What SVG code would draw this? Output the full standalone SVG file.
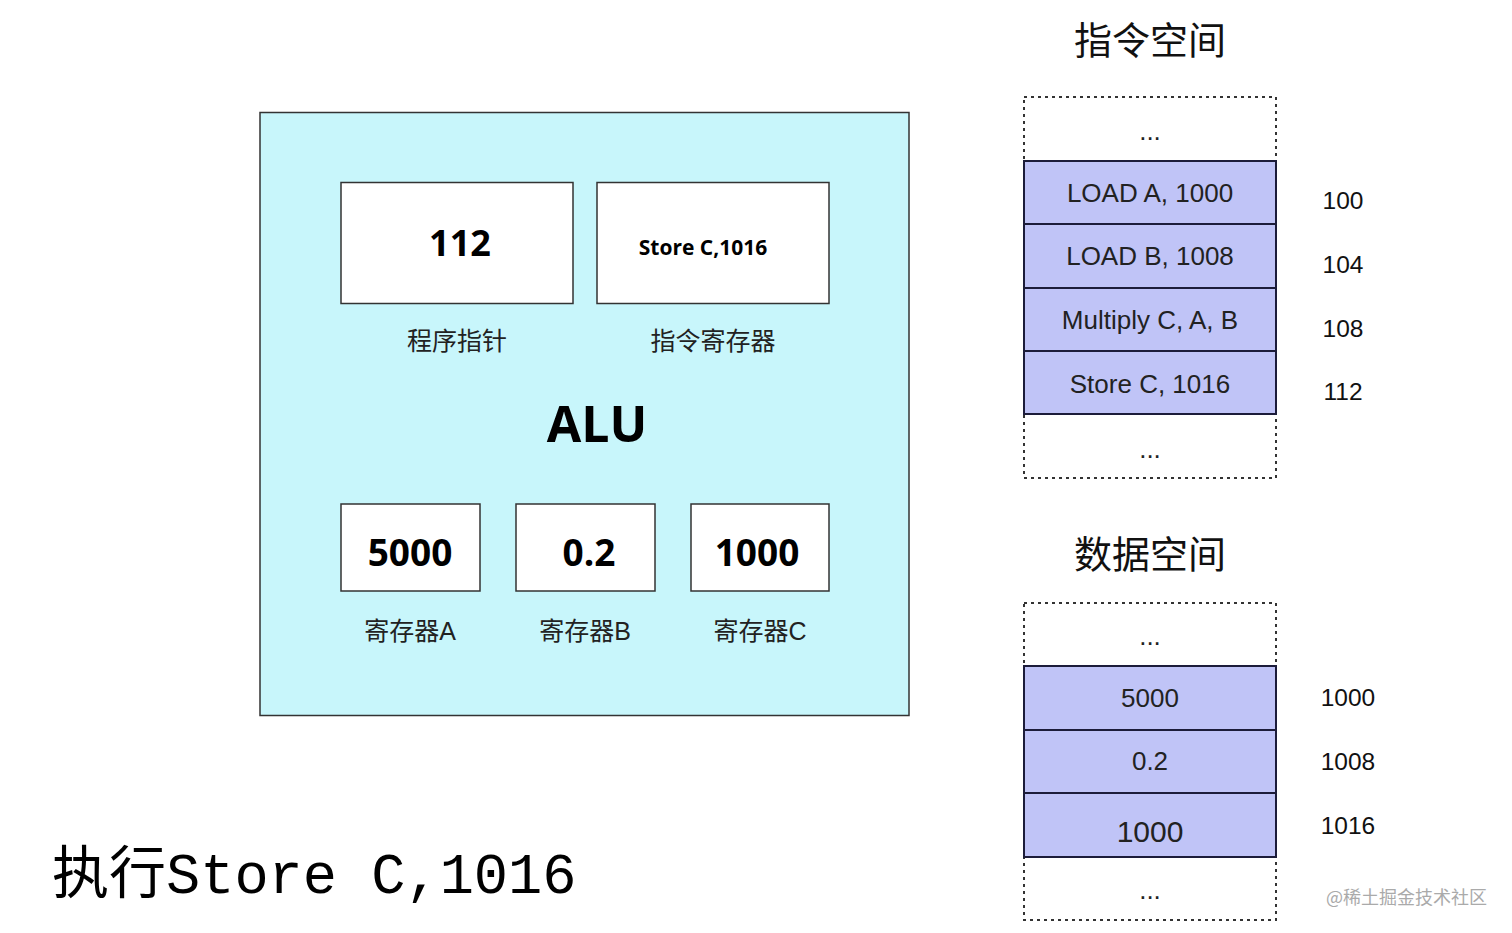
<svg xmlns="http://www.w3.org/2000/svg" width="1512" height="933" viewBox="0 0 1512 933">
<style>
.reg{fill:#ffffff;stroke:#333333;stroke-width:1.5}
.val{font-family:"Open Sans","Liberation Sans","Noto Sans CJK SC",sans-serif;font-weight:bold;fill:#000;text-anchor:middle}
.lbl{font-family:"Liberation Sans","Noto Sans CJK SC",sans-serif;font-size:25px;fill:#222;text-anchor:middle}
.row{fill:#c0c4f7;stroke:#1c1c3a;stroke-width:2}
.dot{fill:none;stroke:#333;stroke-width:2;stroke-dasharray:3 4}
.cell{font-family:"Liberation Sans","Noto Sans CJK SC",sans-serif;font-size:26px;fill:#222;text-anchor:middle}
.big{font-size:30px}
.addr{font-family:"Liberation Sans",sans-serif;font-size:24.5px;fill:#111;text-anchor:middle}
.title{font-family:"Noto Sans CJK SC",sans-serif;font-size:38px;fill:#111;text-anchor:middle}
</style>
<rect width="1512" height="933" fill="#ffffff"/>
<g id="cpu">
<rect x="260" y="112.5" width="649" height="603" fill="#c8f6fb" stroke="#333" stroke-width="1.5"/>
<text class="val" x="597" y="442" font-size="50">ALU</text>
</g>
<g id="pc">
<rect class="reg" x="341" y="182.5" width="232" height="121"/>
<text class="val" x="460" y="256" font-size="36">112</text>
<text class="lbl" x="457" y="350">程序指针</text>
</g>
<g id="ir">
<rect class="reg" x="597" y="182.5" width="232" height="121"/>
<text class="val" x="703" y="255" font-size="21">Store C,1016</text>
<text class="lbl" x="713" y="350">指令寄存器</text>
</g>
<g id="regA">
<rect class="reg" x="341" y="504" width="139" height="87"/>
<text class="val" x="410" y="566" font-size="37">5000</text>
<text class="lbl" x="410" y="640">寄存器A</text>
</g>
<g id="regB">
<rect class="reg" x="516" y="504" width="139" height="87"/>
<text class="val" x="589" y="566" font-size="37">0.2</text>
<text class="lbl" x="585" y="640">寄存器B</text>
</g>
<g id="regC">
<rect class="reg" x="691" y="504" width="138" height="87"/>
<text class="val" x="757" y="566" font-size="37">1000</text>
<text class="lbl" x="760" y="640">寄存器C</text>
</g>
<g id="instr-space">
<text class="title" x="1150" y="54">指令空间</text>
<rect class="dot" x="1024" y="97" width="252" height="381"/>
<text class="cell" x="1150" y="140">...</text>
<rect class="row" x="1024" y="161" width="252" height="63"/>
<rect class="row" x="1024" y="224" width="252" height="64"/>
<rect class="row" x="1024" y="288" width="252" height="63"/>
<rect class="row" x="1024" y="351" width="252" height="63"/>
<text class="cell" x="1150" y="202">LOAD A, 1000</text>
<text class="cell" x="1150" y="265">LOAD B, 1008</text>
<text class="cell" x="1150" y="329">Multiply C, A, B</text>
<text class="cell" x="1150" y="393">Store C, 1016</text>
<text class="cell" x="1150" y="458">...</text>
<text class="addr" x="1343" y="209">100</text>
<text class="addr" x="1343" y="273">104</text>
<text class="addr" x="1343" y="337">108</text>
<text class="addr" x="1343" y="400">112</text>
</g>
<g id="data-space">
<text class="title" x="1150" y="568">数据空间</text>
<rect class="dot" x="1024" y="603" width="252" height="317"/>
<text class="cell" x="1150" y="645">...</text>
<rect class="row" x="1024" y="666" width="252" height="64"/>
<rect class="row" x="1024" y="730" width="252" height="63"/>
<rect class="row" x="1024" y="793" width="252" height="64"/>
<text class="cell" x="1150" y="707">5000</text>
<text class="cell" x="1150" y="770">0.2</text>
<text class="cell big" x="1150" y="842">1000</text>
<text class="cell" x="1150" y="899">...</text>
<text class="addr" x="1348" y="706">1000</text>
<text class="addr" x="1348" y="770">1008</text>
<text class="addr" x="1348" y="834">1016</text>
</g>
<g id="caption">
<text x="52" y="893" font-family="'Liberation Mono','Noto Sans CJK SC',monospace" font-size="57" fill="#000">执行Store C,1016</text>
<text x="1326" y="904" font-family="'Noto Sans CJK SC',sans-serif" font-size="18" fill="#aaaaaa">@稀土掘金技术社区</text>
</g>
<g id="connectors"/>
</svg>
